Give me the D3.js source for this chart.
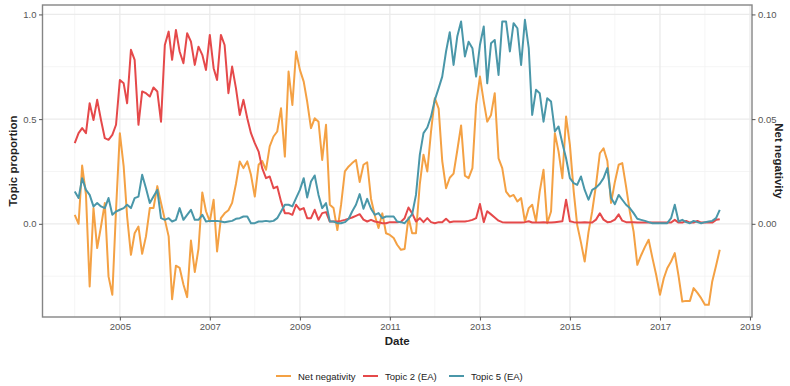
<!DOCTYPE html>
<html>
<head>
<meta charset="utf-8">
<script src="https://cdn.jsdelivr.net/npm/d3@7"></script>
<style>
  body { margin: 0; background: #fff; }
  text { font-family: "Liberation Sans", Arial, Helvetica, sans-serif; }
</style>
</head>
<body>
<svg id="chart" width="790" height="386"></svg>
<script>
// Monthly series, first observation January 2004
const startMonth = "2004-01";

// Topic proportion of Topic 2 (EA)
const topic2 = [
  0.385,0.433,0.457,0.433,0.576,0.496,0.592,0.496,0.409,0.401,0.425,0.473,
  0.687,0.671,0.576,0.831,0.783,0.473,0.632,0.624,0.608,0.651,0.632,0.488,
  0.854,0.918,0.783,0.926,0.823,0.767,0.910,0.870,0.759,0.846,0.807,0.735,
  0.902,0.743,0.687,0.902,0.854,0.624,0.751,0.648,0.520,0.592,0.504,0.433,
  0.385,0.345,0.266,0.218,0.226,0.170,0.178,0.107,0.051,0.051,0.043,0.091,
  0.067,0.075,0.027,0.027,0.067,0.019,0.051,0.056,0.011,0.011,0.011,0.014,
  0.019,0.025,0.030,0.038,0.046,0.020,0.011,0.019,0.011,0.008,0.003,0.003,
  0.008,0.008,0.008,0.010,0.027,0.078,0.050,0.011,0.027,0.008,0.027,0.008,
  0.003,0.008,0.008,0.024,0.008,0.011,0.011,0.011,0.011,0.014,0.019,0.027,
  0.095,0.008,0.060,0.045,0.030,0.015,0.008,0.006,0.006,0.006,0.006,0.006,
  0.008,0.012,0.006,0.006,0.006,0.008,0.006,0.006,0.008,0.010,0.012,0.115,
  0.012,0.008,0.006,0.006,0.008,0.006,0.006,0.020,0.050,0.020,0.008,0.010,
  0.020,0.045,0.015,0.008,0.008,0.008,0.006,0.006,0.006,0.006,0.006,0.006,
  0.006,0.006,0.006,0.006,0.019,0.006,0.006,0.014,0.006,0.006,0.014,0.006,
  0.006,0.006,0.006,0.019,0.022
];

// Topic proportion of Topic 5 (EA)
const topic5 = [
  0.154,0.123,0.218,0.162,0.138,0.083,0.099,0.083,0.075,0.123,0.043,0.059,
  0.067,0.075,0.091,0.075,0.123,0.130,0.234,0.170,0.099,0.130,0.162,0.027,
  0.019,0.027,0.011,0.019,0.075,0.019,0.043,0.067,0.019,0.019,0.043,0.011,
  0.014,0.014,0.014,0.011,0.008,0.011,0.014,0.024,0.027,0.035,0.035,0.003,
  0.003,0.011,0.011,0.014,0.011,0.014,0.027,0.059,0.091,0.091,0.083,0.123,
  0.162,0.218,0.126,0.202,0.231,0.138,0.075,0.099,0.011,0.011,0.003,0.003,
  0.008,0.024,0.059,0.091,0.142,0.072,0.119,0.072,0.043,0.051,0.027,0.035,
  0.035,0.035,0.011,0.008,0.003,0.024,0.046,0.138,0.329,0.433,0.460,0.512,
  0.592,0.648,0.703,0.823,0.915,0.759,0.894,0.966,0.799,0.870,0.839,0.703,
  0.854,0.942,0.671,0.862,0.878,0.711,0.966,0.966,0.823,0.958,0.934,0.759,
  0.974,0.839,0.520,0.640,0.624,0.488,0.600,0.584,0.441,0.465,0.385,0.313,
  0.218,0.194,0.186,0.226,0.162,0.115,0.162,0.173,0.191,0.218,0.266,0.123,
  0.094,0.138,0.115,0.091,0.075,0.051,0.024,0.019,0.014,0.008,0.003,0.003,
  0.003,0.003,0.003,0.027,0.091,0.011,0.019,0.008,0.003,0.014,0.008,0.003,
  0.008,0.011,0.014,0.027,0.067
];

// Net negativity (secondary axis)
const netNegativity = [
  0.0043,0.0000,0.0278,0.0140,-0.0299,0.0075,-0.0116,-0.0013,0.0099,-0.0251,-0.0339,0.0067,
  0.0433,0.0274,0.0035,-0.0148,-0.0045,-0.0013,-0.0143,-0.0060,0.0075,0.0075,0.0180,0.0100,
  0.0020,-0.0060,-0.0360,-0.0200,-0.0210,-0.0290,-0.0350,-0.0080,-0.0230,-0.0120,0.0150,0.0060,
  0.0011,0.0115,-0.0132,0.0027,0.0050,0.0065,0.0100,0.0190,0.0298,0.0266,0.0298,0.0234,
  0.0130,0.0282,0.0300,0.0258,0.0370,0.0417,0.0441,0.0552,0.0321,0.0727,0.0568,0.0823,
  0.0735,0.0679,0.0584,0.0457,0.0504,0.0488,0.0305,0.0473,0.0091,0.0075,-0.0030,0.0090,
  0.0250,0.0274,0.0290,0.0305,0.0200,0.0282,0.0294,0.0120,0.0040,-0.0020,0.0050,-0.0045,
  -0.0053,-0.0068,-0.0100,-0.0124,-0.0120,0.0030,-0.0045,-0.0045,0.0190,0.0330,0.0250,0.0440,
  0.0600,0.0550,0.0300,0.0170,0.0220,0.0240,0.0350,0.0470,0.0230,0.0218,0.0266,0.0568,
  0.0703,0.0584,0.0488,0.0520,0.0624,0.0313,0.0266,0.0154,0.0130,0.0138,0.0107,0.0123,
  0.0011,0.0075,0.0091,0.0011,0.0154,0.0258,0.0003,0.0059,0.0433,0.0345,0.0218,0.0512,
  0.0377,0.0154,-0.0005,-0.0090,-0.0180,-0.0040,0.0060,0.0186,0.0337,0.0361,0.0300,0.0100,
  0.0200,0.0282,0.0290,0.0178,0.0059,-0.0037,-0.0196,-0.0150,-0.0110,-0.0076,-0.0164,-0.0243,
  -0.0339,-0.0260,-0.0212,-0.0180,-0.0140,-0.0250,-0.0371,-0.0368,-0.0368,-0.0307,-0.0330,-0.0355,
  -0.0387,-0.0387,-0.0275,-0.0200,-0.0124
];

const yearTicks = [2005, 2007, 2009, 2011, 2013, 2015, 2017, 2019];
const yearMinor = [2004, 2006, 2008, 2010, 2012, 2014, 2016, 2018];
const leftTicks = [0, 0.5, 1.0];
const leftMinor = [-0.25, 0.25, 0.75];
const rightTicks = [0, 0.05, 0.10];
const seriesNames = ["Net negativity", "Topic 2 (EA)", "Topic 5 (EA)"];
const seriesColors = ["#f4a144", "#e5494a", "#4a97a9"];
const secondaryFactor = 10;   // 0.10 net negativity = 1.0 topic proportion

const svg = d3.select("#chart");
const panel = { left: 42.5, right: 752, top: 5, bottom: 317 };

// Monthly dates
const start = d3.timeParse("%Y-%m")(startMonth);
const dates = d3.range(topic2.length).map(i => d3.timeMonth.offset(start, i));
const t0 = +dates[0], t1 = +dates[dates.length - 1], pad = (t1 - t0) * 0.05;

const x = d3.scaleTime().domain([new Date(t0 - pad), new Date(t1 + pad)])
  .range([panel.left, panel.right]);
const y = d3.scaleLinear().domain([-0.445, 1.045]).range([panel.bottom, panel.top]);
const yRight = d3.scaleLinear()
  .domain(y.domain().map(v => v / secondaryFactor)).range([panel.bottom, panel.top]);
const yearDate = yr => new Date(yr, 0, 1);

// Panel background
svg.append("rect").attr("x", panel.left).attr("y", panel.top)
  .attr("width", panel.right - panel.left).attr("height", panel.bottom - panel.top)
  .attr("fill", "#fff");

// Grid lines
const grid = svg.append("g");
grid.selectAll(".gxm").data(yearMinor).join("line")
  .attr("x1", d => x(yearDate(d))).attr("x2", d => x(yearDate(d)))
  .attr("y1", panel.top).attr("y2", panel.bottom)
  .attr("stroke", "#f2f2f2").attr("stroke-width", 0.8);
grid.selectAll(".gym").data(leftMinor).join("line")
  .attr("x1", panel.left).attr("x2", panel.right)
  .attr("y1", d => y(d)).attr("y2", d => y(d))
  .attr("stroke", "#f2f2f2").attr("stroke-width", 0.8);
grid.selectAll(".gx").data(yearTicks).join("line")
  .attr("x1", d => x(yearDate(d))).attr("x2", d => x(yearDate(d)))
  .attr("y1", panel.top).attr("y2", panel.bottom)
  .attr("stroke", "#ebebeb").attr("stroke-width", 1.3);
grid.selectAll(".gy").data(leftTicks).join("line")
  .attr("x1", panel.left).attr("x2", panel.right)
  .attr("y1", d => y(d)).attr("y2", d => y(d))
  .attr("stroke", "#ebebeb").attr("stroke-width", 1.3);

// Series lines
const series = [
  { values: netNegativity, scale: yRight },
  { values: topic2, scale: y },
  { values: topic5, scale: y }
];
const clip = svg.append("clipPath").attr("id", "clip").append("rect")
  .attr("x", panel.left).attr("y", panel.top)
  .attr("width", panel.right - panel.left).attr("height", panel.bottom - panel.top);
const lines = svg.append("g").attr("clip-path", "url(#clip)");
series.forEach((s, i) => {
  const line = d3.line().x((d, j) => x(dates[j])).y(d => s.scale(d));
  lines.append("path").datum(s.values)
    .attr("d", line).attr("fill", "none")
    .attr("stroke", seriesColors[i]).attr("stroke-width", 2)
    .attr("stroke-linejoin", "round").attr("stroke-linecap", "butt");
});

// Panel border
svg.append("rect").attr("x", panel.left).attr("y", panel.top)
  .attr("width", panel.right - panel.left).attr("height", panel.bottom - panel.top)
  .attr("fill", "none").attr("stroke", "#858585").attr("stroke-width", 1.4);

// Axes
function styleAxis(g) {
  g.select(".domain").remove();
  g.selectAll(".tick line").attr("stroke", "#555").attr("stroke-width", 1);
  g.selectAll(".tick text").attr("fill", "#555").style("font-size", "9.5px")
    .style("font-family", '"Liberation Sans", Arial, sans-serif');
}
svg.append("g").attr("transform", `translate(0,${panel.bottom})`)
  .call(d3.axisBottom(x).tickValues(yearTicks.map(yearDate))
    .tickFormat(d3.timeFormat("%Y")).tickSize(3.5).tickPadding(3))
  .call(styleAxis);
svg.append("g").attr("transform", `translate(${panel.left},0)`)
  .call(d3.axisLeft(y).tickValues(leftTicks).tickFormat(d3.format(".1f"))
    .tickSize(3.5).tickPadding(2.5))
  .call(styleAxis);
svg.append("g").attr("transform", `translate(${panel.right},0)`)
  .call(d3.axisRight(yRight).tickValues(rightTicks).tickFormat(d3.format(".2f"))
    .tickSize(3.5).tickPadding(2.5))
  .call(styleAxis);

// Axis titles
const midY = (panel.top + panel.bottom) / 2;
svg.append("text").attr("x", (panel.left + panel.right) / 2).attr("y", 345)
  .attr("text-anchor", "middle").attr("font-size", 11.5).attr("font-weight", "bold")
  .attr("fill", "#222").text("Date");
svg.append("text").attr("transform", `translate(17,${midY}) rotate(-90)`)
  .attr("text-anchor", "middle").attr("font-size", 11.5).attr("font-weight", "bold")
  .attr("fill", "#222").text("Topic proportion");
svg.append("text").attr("transform", `translate(775,${midY}) rotate(90)`)
  .attr("text-anchor", "middle").attr("font-size", 11.5).attr("font-weight", "bold")
  .attr("fill", "#222").text("Net negativity");

// Legend
const legend = svg.append("g").attr("transform", "translate(0,376)");
const itemX = [276, 363, 449];
seriesNames.forEach((name, i) => {
  const g = legend.append("g").attr("transform", `translate(${itemX[i]},0)`);
  g.append("line").attr("x1", 0).attr("x2", 15).attr("y1", 0).attr("y2", 0)
    .attr("stroke", seriesColors[i]).attr("stroke-width", 2);
  g.append("text").attr("x", 22).attr("y", 3.5).attr("font-size", 9.5)
    .attr("fill", "#222").text(name);
});
</script>
</body>
</html>
